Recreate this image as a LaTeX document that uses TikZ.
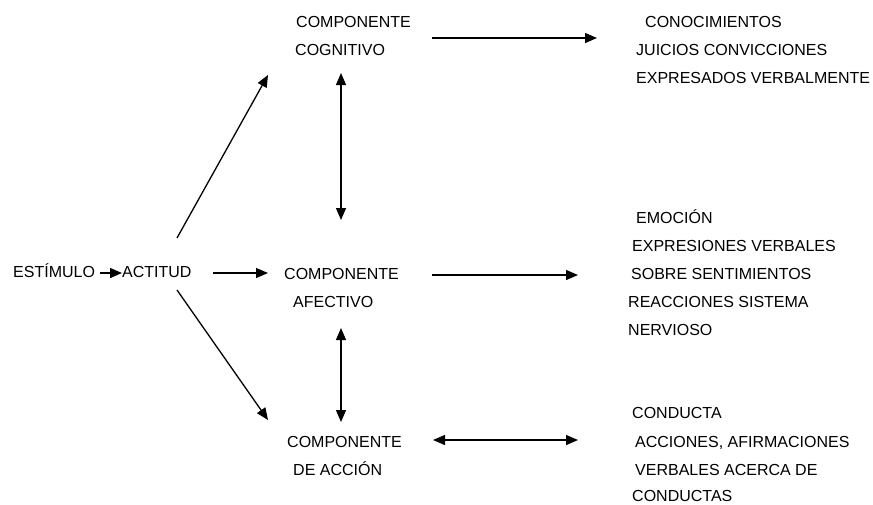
\documentclass[tikz,border=0pt]{standalone}
\usepackage{fontspec}
\setmainfont{Liberation Sans}
\usetikzlibrary{arrows.meta}
\begin{document}
\begin{tikzpicture}[x=1pt,y=-1pt,
  lbl/.style={anchor=base west, inner sep=0pt, font=\fontsize{16}{19}\selectfont},
  arr/.style={-{Triangle[length=12pt,width=10pt]}, line width=1.3pt},
  darr/.style={{Triangle[length=12pt,width=10pt]}-{Triangle[length=12pt,width=10pt]}, line width=1.3pt}]
\useasboundingbox (0,0) rectangle (873,504);
% left
\node[lbl] (est) at (13,277) {ESTÍMULO};
\node[lbl] (act) at (122,277) {ACTITUD};
% components
\node[lbl] (cog1) at (296,27) {COMPONENTE};
\node[lbl] (cog2) at (295,55) {COGNITIVO};
\node[lbl] (afe1) at (284,279) {COMPONENTE};
\node[lbl] (afe2) at (293,307) {AFECTIVO};
\node[lbl] (acc1) at (287,447) {COMPONENTE};
\node[lbl] (acc2) at (293,475) {DE ACCIÓN};
% right top
\node[lbl] (rt1) at (645,27) {CONOCIMIENTOS};
\node[lbl] (rt2) at (636,55) {JUICIOS CONVICCIONES};
\node[lbl] (rt3) at (636,83) {EXPRESADOS VERBALMENTE};
% right middle
\node[lbl] (rm1) at (636,223) {EMOCIÓN};
\node[lbl] (rm2) at (632,251) {EXPRESIONES VERBALES};
\node[lbl] (rm3) at (631,279) {SOBRE SENTIMIENTOS};
\node[lbl] (rm4) at (628,307) {REACCIONES SISTEMA};
\node[lbl] (rm5) at (628,335) {NERVIOSO};
% right bottom
\node[lbl] (rb1) at (632,418) {CONDUCTA};
\node[lbl] (rb2) at (635,447) {ACCIONES, AFIRMACIONES};
\node[lbl] (rb3) at (635,475) {VERBALES ACERCA DE};
\node[lbl] (rb4) at (632,501.5) {CONDUCTAS};
% arrow end points
\coordinate (e1s) at (100,273); \coordinate (e1e) at (122,273);
\coordinate (a2s) at (213,273); \coordinate (a2e) at (268,273);
\coordinate (ups) at (177,238); \coordinate (upe) at (268,75);
\coordinate (dns) at (177,290); \coordinate (dne) at (268,420);
\coordinate (v1s) at (341,73);  \coordinate (v1e) at (341,220);
\coordinate (v2s) at (341,328); \coordinate (v2e) at (341,422);
\coordinate (hts) at (432,38);  \coordinate (hte) at (597,38);
\coordinate (hms) at (432,275); \coordinate (hme) at (578,275);
\coordinate (hbs) at (433,440); \coordinate (hbe) at (578,440);
% connectors
\draw[arr] (e1s) -- (e1e);
\draw[arr] (a2s) -- (a2e);
\draw[arr] (ups) -- (upe);
\draw[arr] (dns) -- (dne);
\draw[darr] (v1s) -- (v1e);
\draw[darr] (v2s) -- (v2e);
\draw[arr] (hts) -- (hte);
\draw[arr] (hms) -- (hme);
\draw[darr] (hbs) -- (hbe);
\end{tikzpicture}
\end{document}
